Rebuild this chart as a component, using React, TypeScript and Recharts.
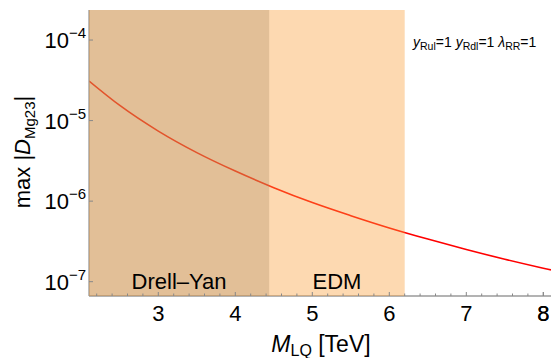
import React from 'react';
import { ComposedChart, Line, XAxis, YAxis, ReferenceArea } from 'recharts';

// Leptoquark mass (TeV) and max |D_Mg23|
const massTeV = [2.1, 2.5, 3, 3.5, 4, 4.5, 5, 5.5, 6, 6.5, 7, 7.5, 8, 8.1];
const maxD = [3.1e-5, 1.54e-5, 7.4e-6, 4.0e-6, 2.36e-6, 1.47e-6, 9.6e-7, 6.6e-7, 4.65e-7, 3.38e-7, 2.51e-7, 1.9e-7, 1.47e-7, 1.4e-7];

// Excluded regions (TeV)
const drellYanLimit = [2.1, 4.44];
const edmLimit = [2.1, 6.2];

const xDomain = [2.1, 8.1];
const yDomain = [6.64e-8, 2.36e-4];

const xMajorTicks = [3, 4, 5, 6, 7, 8];
const xMinorTicks = [2.2, 2.4, 2.6, 2.8, 3.2, 3.4, 3.6, 3.8, 4.2, 4.4, 4.6, 4.8, 5.2, 5.4, 5.6, 5.8, 6.2, 6.4, 6.6, 6.8, 7.2, 7.4, 7.6, 7.8, 8.0];
const yMajorTicks = [1e-7, 1e-6, 1e-5, 1e-4];
const yRightTicks = [1e-7, 3.16e-7, 1e-6, 3.16e-6, 1e-5, 3.16e-5, 1e-4];

const data = massTeV.map((m, i) => ({ m, d: maxD[i] }));

const FONT = '"Liberation Sans", Arial, sans-serif';
const FRAME = '#9a9a9a';
const TICK = '#888888';

const isMajorX = (v: number) => xMajorTicks.some((t) => Math.abs(t - v) < 1e-6);

const BottomTick = (props: any) => {
  const { x, y, payload } = props;
  const v = payload.value;
  const major = isMajorX(v);
  return (
    <g>
      <line x1={x} x2={x} y1={y} y2={y - (major ? 4 : 2.5)} stroke={TICK} strokeWidth={1} />
      {major && (
        <text x={x} y={y + 25} textAnchor="middle" fontSize={22} fontFamily={FONT} fill="#000">
          {String(v)}
        </text>
      )}
    </g>
  );
};

const TopTick = (props: any) => {
  const { x, y, payload } = props;
  const major = isMajorX(payload.value);
  return <line x1={x} x2={x} y1={y} y2={y + (major ? 4 : 2.5)} stroke={TICK} strokeWidth={1} />;
};

const LeftTick = (props: any) => {
  const { x, y, payload } = props;
  const exp = Math.round(Math.log10(payload.value));
  return (
    <g>
      <line x1={x} x2={x + 4} y1={y} y2={y} stroke={TICK} strokeWidth={1} />
      <text x={x - 3} y={y + 8} textAnchor="end" fontFamily={FONT} fill="#000">
        <tspan fontSize={22}>10</tspan>
        <tspan fontSize={15} dy={-10}>{'\u2212' + String(-exp)}</tspan>
      </text>
    </g>
  );
};

const RightTick = (props: any) => {
  const { x, y } = props;
  return <line x1={x} x2={x - 2.5} y1={y} y2={y} stroke={TICK} strokeWidth={1} />;
};

const regionLabel = (value: string) => ({
  value,
  position: 'insideBottom' as const,
  offset: 7,
  fontSize: 22,
  fill: '#000',
  fontFamily: FONT,
});

export default function App() {
  return (
    <div style={{ position: 'absolute', left: 0, top: 0, width: 551, height: 358, background: '#fff' }}>
      <ComposedChart
        width={551}
        height={358}
        data={data}
        margin={{ top: 10, right: 0, bottom: 0, left: 0 }}
      >
        <XAxis
          xAxisId="b"
          dataKey="m"
          type="number"
          domain={xDomain}
          allowDataOverflow
          ticks={[...xMajorTicks, ...xMinorTicks]}
          interval={0}
          height={62}
          tickSize={0}
          tickMargin={0}
          tickLine={false}
          tick={<BottomTick />}
          axisLine={{ stroke: FRAME, strokeWidth: 1.3 }}
        />
        <XAxis
          xAxisId="t"
          orientation="top"
          dataKey="m"
          type="number"
          domain={xDomain}
          allowDataOverflow
          ticks={[...xMajorTicks, ...xMinorTicks]}
          interval={0}
          height={0}
          tickSize={0}
          tickMargin={0}
          tickLine={false}
          tick={<TopTick />}
          axisLine={{ stroke: FRAME, strokeWidth: 1.3 }}
        />
        <YAxis
          yAxisId="l"
          type="number"
          scale="log"
          domain={yDomain}
          allowDataOverflow
          ticks={yMajorTicks}
          interval={0}
          width={89}
          tickSize={0}
          tickMargin={0}
          tickLine={false}
          tick={<LeftTick />}
          axisLine={{ stroke: FRAME, strokeWidth: 1.3 }}
        />
        <YAxis
          yAxisId="r"
          orientation="right"
          type="number"
          scale="log"
          domain={yDomain}
          allowDataOverflow
          ticks={yRightTicks}
          interval={0}
          width={0}
          tickSize={0}
          tickMargin={0}
          tickLine={false}
          tick={<RightTick />}
          axisLine={false}
        />
        <Line
          xAxisId="b"
          yAxisId="l"
          dataKey="d"
          type="monotone"
          stroke="#ff0000"
          strokeWidth={1.6}
          dot={false}
          isAnimationActive={false}
        />
        <ReferenceArea
          xAxisId="b"
          yAxisId="l"
          x1={edmLimit[0]}
          x2={edmLimit[1]}
          fill="rgb(250,160,60)"
          fillOpacity={0.4}
          stroke="none"
          zIndex={600}
        />
        <ReferenceArea
          xAxisId="b"
          yAxisId="l"
          x1={drellYanLimit[0]}
          x2={drellYanLimit[1]}
          fill="rgb(166,134,94)"
          fillOpacity={0.3}
          stroke="none"
          zIndex={601}
          label={regionLabel('Drell\u2013Yan')}
        />
        <ReferenceArea
          xAxisId="b"
          yAxisId="l"
          x1={drellYanLimit[1]}
          x2={edmLimit[1]}
          fill="none"
          fillOpacity={0}
          stroke="none"
          zIndex={602}
          label={regionLabel('EDM')}
        />
      </ComposedChart>
      <svg
        width={551}
        height={358}
        style={{ position: 'absolute', left: 0, top: 0, pointerEvents: 'none' }}
        fontFamily={FONT}
      >
        <text transform="translate(30,152) rotate(-90)" textAnchor="middle" fontSize={22} fill="#000">
          <tspan>max |</tspan>
          <tspan fontStyle="italic">D</tspan>
          <tspan fontSize={15} dy={5}>Mg23</tspan>
          <tspan dy={-5}>|</tspan>
        </text>
        <text x={321} y={352} textAnchor="middle" fontSize={23} fill="#000">
          <tspan fontStyle="italic">M</tspan>
          <tspan fontSize={16} dy={4}>LQ</tspan>
          <tspan dy={-4}> [TeV]</tspan>
        </text>
        <text x={413} y={47} fontSize={14} fill="#000">
          <tspan fontStyle="italic">y</tspan>
          <tspan fontSize={10.5} dy={3}>Rul</tspan>
          <tspan dy={-3}>=1 </tspan>
          <tspan fontStyle="italic">y</tspan>
          <tspan fontSize={10.5} dy={3}>Rdl</tspan>
          <tspan dy={-3}>=1 </tspan>
          <tspan fontStyle="italic">λ</tspan>
          <tspan fontSize={10.5} dy={3}>RR</tspan>
          <tspan dy={-3}>=1</tspan>
        </text>
      </svg>
    </div>
  );
}
